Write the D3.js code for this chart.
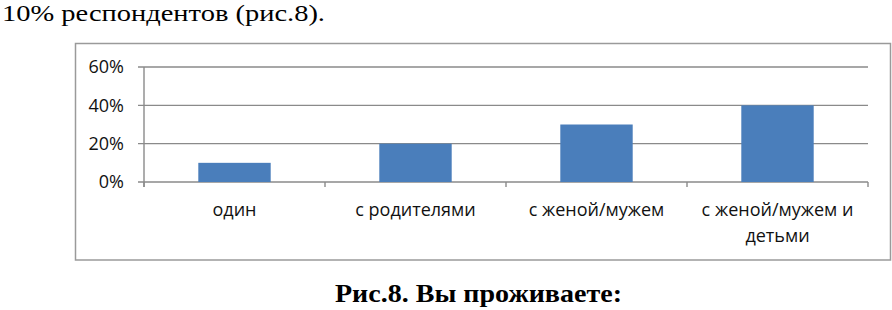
<!DOCTYPE html>
<html>
<head>
<meta charset="utf-8">
<script src="https://cdn.jsdelivr.net/npm/d3@7"></script>
<style>
  body { margin: 0; background: #fff; }
  svg { display: block; }
</style>
</head>
<body>
<div id="chart"></div>
<script>
// данные диаграммы
var categories = ["один", "с родителями", "с женой/мужем", "с женой/мужем и детьми"];
var catLabels = [["один"], ["с родителями"], ["с женой/мужем"], ["с женой/мужем и", "детьми"]];
var values = [0.10, 0.20, 0.30, 0.40];
var yTicks = [0, 0.2, 0.4, 0.6];

var width = 892, height = 310;

var svg = d3.select("#chart")
    .append("svg")
    .attr("width", width)
    .attr("height", height);

// текст над диаграммой
svg.append("text")
    .attr("x", 2)
    .attr("y", 21)
    .attr("font-family", "'Liberation Serif', 'Times New Roman', serif")
    .attr("font-size", 23)
    .attr("textLength", 323)
    .attr("lengthAdjust", "spacingAndGlyphs")
    .text("10% респондентов (рис.8).");

// рамка диаграммы
svg.append("rect")
    .attr("x", 75.5)
    .attr("y", 43.5)
    .attr("width", 815)
    .attr("height", 216.5)
    .attr("fill", "none")
    .attr("stroke", "#9a9a9a")
    .attr("stroke-width", 1.5);

var x = d3.scaleBand()
    .domain(categories)
    .range([144, 868])
    .paddingInner(0.6)
    .paddingOuter(0.3);

var y = d3.scaleLinear()
    .domain([0, 0.6])
    .range([182, 67]);

// сетка
svg.append("g")
    .selectAll("line")
    .data(yTicks)
    .enter().append("line")
    .attr("x1", 138)
    .attr("x2", 868)
    .attr("y1", function(d) { return y(d); })
    .attr("y2", function(d) { return y(d); })
    .attr("stroke", "#8a8a8a")
    .attr("stroke-width", 1.4);

// ось Y
svg.append("line")
    .attr("x1", 144).attr("x2", 144)
    .attr("y1", y(0.6)).attr("y2", y(0) + 5)
    .attr("stroke", "#8a8a8a")
    .attr("stroke-width", 1.4);

svg.append("g")
    .selectAll("text")
    .data(yTicks)
    .enter().append("text")
    .attr("x", 124)
    .attr("y", function(d) { return y(d); })
    .attr("dy", "0.36em")
    .attr("text-anchor", "end")
    .attr("font-family", "'Open Sans', sans-serif")
    .attr("font-size", 18)
    .attr("fill", "#111")
    .text(function(d) { return d3.format(".0%")(d); });

// засечки между категориями
var bounds = categories.map(function(c) { return x(c) - x.step() * x.paddingOuter(); });
bounds.push(x.range()[1]);
svg.append("g")
    .selectAll("line")
    .data(bounds)
    .enter().append("line")
    .attr("x1", function(d) { return d; })
    .attr("x2", function(d) { return d; })
    .attr("y1", y(0))
    .attr("y2", y(0) + 5)
    .attr("stroke", "#8a8a8a")
    .attr("stroke-width", 1.4);

// столбцы
svg.append("g")
    .selectAll("rect")
    .data(values)
    .enter().append("rect")
    .attr("x", function(d, i) { return x(categories[i]); })
    .attr("y", function(d) { return y(d); })
    .attr("width", x.bandwidth())
    .attr("height", function(d) { return y(0) - y(d); })
    .attr("fill", "#4a7ebb");

// подписи категорий
var lbl = svg.append("g")
    .selectAll("text")
    .data(categories)
    .enter().append("text")
    .attr("text-anchor", "middle")
    .attr("font-family", "'Open Sans', sans-serif")
    .attr("font-size", 18)
    .attr("fill", "#111");

lbl.selectAll("tspan")
    .data(function(d, i) { return catLabels[i].map(function(t) { return { t: t, c: d }; }); })
    .enter().append("tspan")
    .attr("x", function(d) { return x(d.c) + x.bandwidth() / 2; })
    .attr("y", function(d, j) { return 216 + j * 25.5; })
    .text(function(d) { return d.t; });

// подпись рисунка
svg.append("text")
    .attr("x", 335)
    .attr("y", 302)
    .attr("font-family", "'Liberation Serif', 'Times New Roman', serif")
    .attr("font-weight", "bold")
    .attr("font-size", 25)
    .attr("textLength", 287)
    .attr("lengthAdjust", "spacingAndGlyphs")
    .text("Рис.8. Вы проживаете:");
</script>
</body>
</html>
